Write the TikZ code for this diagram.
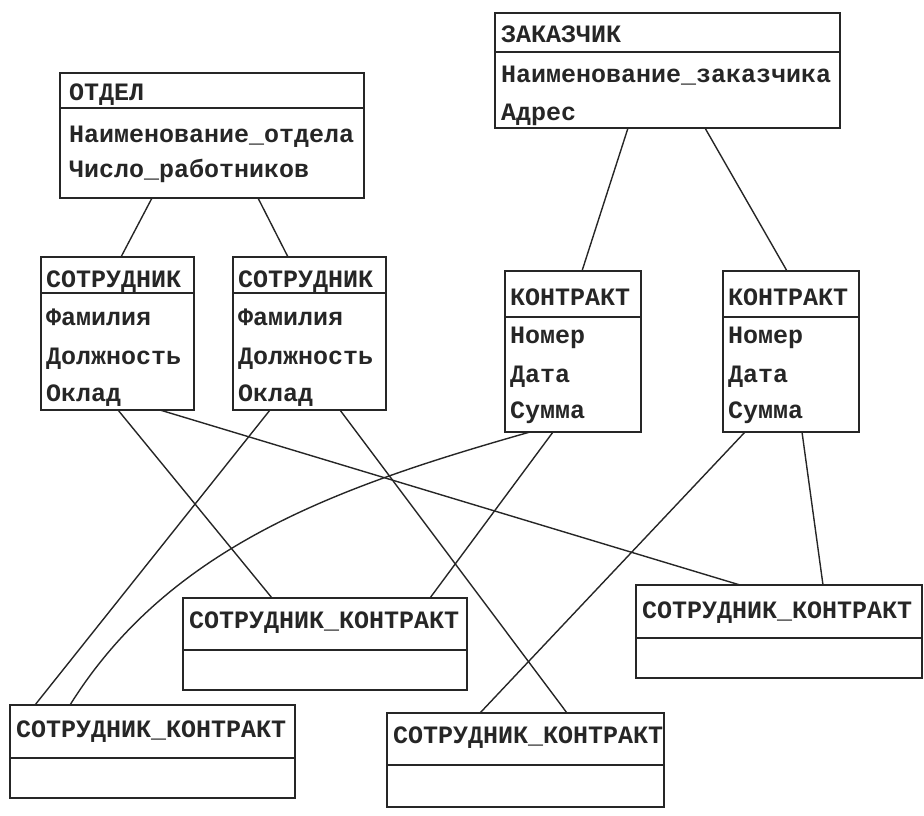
\documentclass[tikz,border=0pt]{standalone}
\usepackage{fontspec}
\newfontfamily\erfont{Liberation Mono}
\begin{document}
\begin{tikzpicture}[x=1pt,y=-1pt,
  ent/.style={draw=black!85, line width=2pt, inner sep=0pt, outer sep=0pt, anchor=north west},
  sepline/.style={draw=black!85, line width=2pt},
  lbl/.style={anchor=base west, inner sep=0pt, font=\erfont\bfseries\fontsize{25}{30}\selectfont, text=black!85},
  link/.style={draw=black!85, line width=1.4pt}]
\useasboundingbox (0,0) rectangle (924,815);

% ОТДЕЛ
\node[ent, minimum width=304pt, minimum height=125pt] (otdel) at (60,73) {};
\draw[sepline] ([yshift=-35pt]otdel.north west) -- ([yshift=-35pt]otdel.north east);
\node[lbl] (otdelh) at ([xshift=9pt,yshift=-27pt]otdel.north west) {ОТДЕЛ};
\node[lbl] (otdel1) at ([xshift=9pt,yshift=-69pt]otdel.north west) {Наименование\_отдела};
\node[lbl] (otdel2) at ([xshift=9pt,yshift=-104pt]otdel.north west) {Число\_работников};

% ЗАКАЗЧИК
\node[ent, minimum width=345pt, minimum height=115pt] (zak) at (495,13) {};
\draw[sepline] ([yshift=-39pt]zak.north west) -- ([yshift=-39pt]zak.north east);
\node[lbl] (zakh) at ([xshift=6pt,yshift=-29pt]zak.north west) {ЗАКАЗЧИК};
\node[lbl] (zak1) at ([xshift=6pt,yshift=-69pt]zak.north west) {Наименование\_заказчика};
\node[lbl] (zak2) at ([xshift=6pt,yshift=-107pt]zak.north west) {Адрес};

% СОТРУДНИК (two copies)
\foreach \nm/\xx in {sa/41, sb/233}{
  \node[ent, minimum width=153pt, minimum height=153pt] (\nm) at (\xx,257) {};
  \draw[sepline] ([yshift=-36pt]\nm.north west) -- ([yshift=-36pt]\nm.north east);
  \node[lbl] (\nm h) at ([xshift=5pt,yshift=-30pt]\nm.north west) {СОТРУДНИК};
  \node[lbl] (\nm 1) at ([xshift=5pt,yshift=-68pt]\nm.north west) {Фамилия};
  \node[lbl] (\nm 2) at ([xshift=5pt,yshift=-107pt]\nm.north west) {Должность};
  \node[lbl] (\nm 3) at ([xshift=5pt,yshift=-144pt]\nm.north west) {Оклад};
}

% КОНТРАКТ (two copies)
\foreach \nm/\xx in {ka/505, kb/723}{
  \node[ent, minimum width=136pt, minimum height=161pt] (\nm) at (\xx,271) {};
  \draw[sepline] ([yshift=-46pt]\nm.north west) -- ([yshift=-46pt]\nm.north east);
  \node[lbl] (\nm h) at ([xshift=5pt,yshift=-34pt]\nm.north west) {КОНТРАКТ};
  \node[lbl] (\nm 1) at ([xshift=5pt,yshift=-72pt]\nm.north west) {Номер};
  \node[lbl] (\nm 2) at ([xshift=5pt,yshift=-111pt]\nm.north west) {Дата};
  \node[lbl] (\nm 3) at ([xshift=5pt,yshift=-147pt]\nm.north west) {Сумма};
}

% СОТРУДНИК_КОНТРАКТ (four copies)
\foreach \nm/\xx/\yy/\ww/\hh/\ss/\bb in {
    ska/10/705/285/93/53/32,
    skb/183/598/284/92/52/30,
    skc/387/713/277/94/52/30,
    skd/636/585/286/93/53/33}{
  \node[ent, minimum width=\ww pt, minimum height=\hh pt] (\nm) at (\xx,\yy) {};
  \draw[sepline] ([yshift=-\ss pt]\nm.north west) -- ([yshift=-\ss pt]\nm.north east);
  \node[lbl] (\nm h) at ([xshift=6pt,yshift=-\bb pt]\nm.north west) {СОТРУДНИК\_КОНТРАКТ};
}

% links
\draw[link] ([xshift=92pt]otdel.south west) -- ([xshift=80pt]sa.north west);
\draw[link] ([xshift=198pt]otdel.south west) -- ([xshift=55pt]sb.north west);
\draw[link] ([xshift=133pt]zak.south west) -- ([xshift=77pt]ka.north west);
\draw[link] ([xshift=210pt]zak.south west) -- ([xshift=64pt]kb.north west);
\draw[link] ([xshift=77pt]sa.south west) -- ([xshift=89pt]skb.north west);
\draw[link] ([xshift=119pt]sa.south west) -- ([xshift=104pt]skd.north west);
\draw[link] ([xshift=37pt]sb.south west) -- ([xshift=25pt]ska.north west);
\draw[link] ([xshift=107pt]sb.south west) -- ([xshift=180pt]skc.north west);
\draw[link] ([xshift=25pt]ka.south west) .. controls +(-190,54) and +(100,-160) .. ([xshift=60pt]ska.north west);
\draw[link] ([xshift=48pt]ka.south west) -- ([xshift=247pt]skb.north west);
\draw[link] ([xshift=22pt]kb.south west) -- ([xshift=93pt]skc.north west);
\draw[link] ([xshift=79pt]kb.south west) -- ([xshift=187pt]skd.north west);
\end{tikzpicture}
\end{document}
